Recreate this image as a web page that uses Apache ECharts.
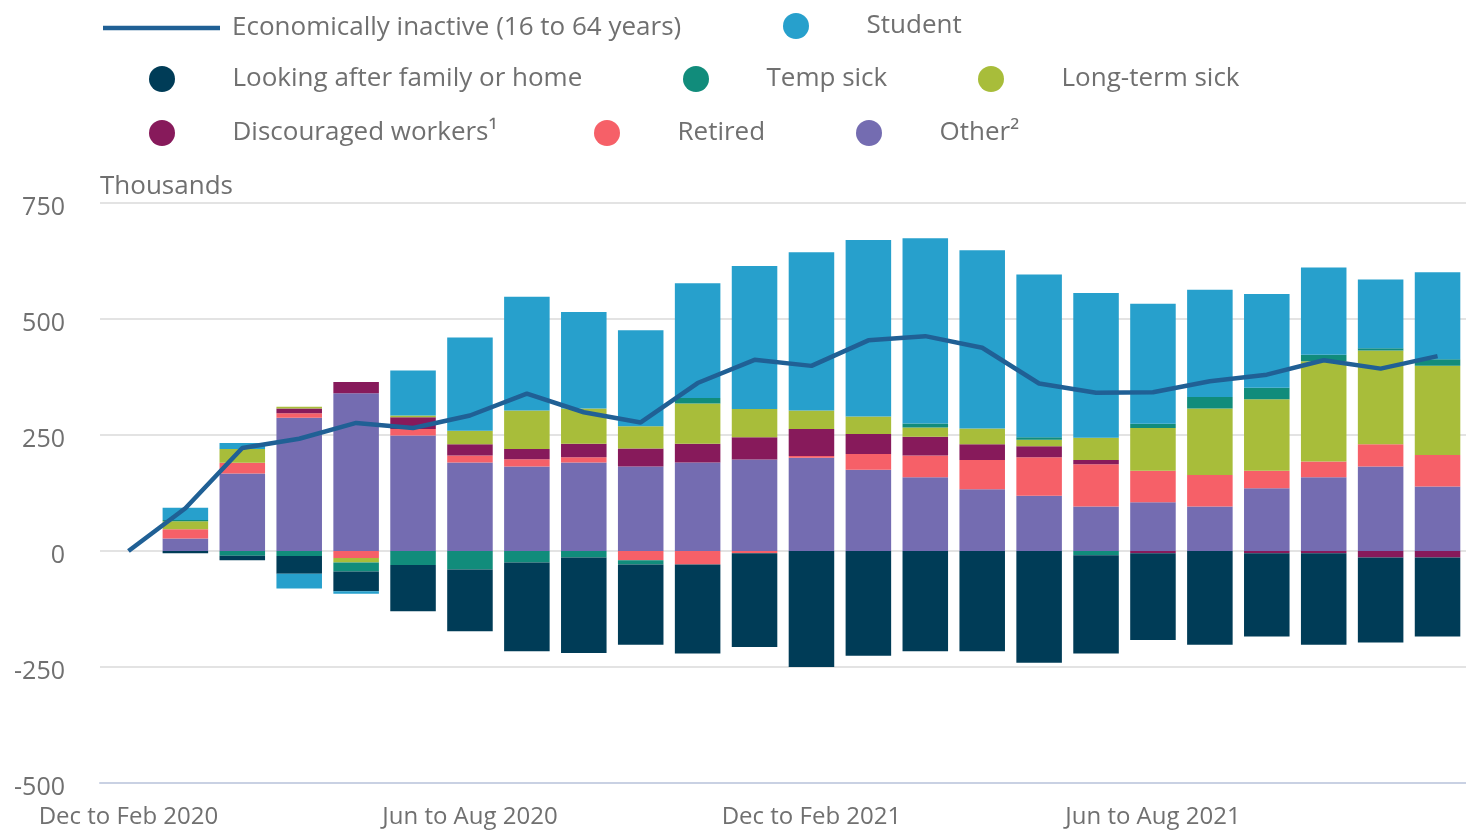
<!DOCTYPE html>
<html>
<head>
<meta charset="utf-8">
<script src="https://cdn.jsdelivr.net/npm/echarts@6/dist/echarts.min.js"></script>
<style>
  html, body { margin: 0; padding: 0; background: #fff; }
  #chart { width: 1466px; height: 832px; }
</style>
</head>
<body>
<div id="chart"></div>
<script>
// rolling three-month periods
const categories = [
  "Dec to Feb 2020", "Jan to Mar 2020", "Feb to Apr 2020", "Mar to May 2020",
  "Apr to Jun 2020", "May to Jul 2020", "Jun to Aug 2020", "Jul to Sep 2020",
  "Aug to Oct 2020", "Sep to Nov 2020", "Oct to Dec 2020", "Nov to Jan 2021",
  "Dec to Feb 2021", "Jan to Mar 2021", "Feb to Apr 2021", "Mar to May 2021",
  "Apr to Jun 2021", "May to Jul 2021", "Jun to Aug 2021", "Jul to Sep 2021",
  "Aug to Oct 2021", "Sep to Nov 2021", "Oct to Dec 2021", "Nov to Jan 2022"
];

// change since Dec to Feb 2020, thousands
const other       = [0, 27, 167, 287, 340, 249, 191, 182, 191, 182, 191, 197, 201, 175, 159, 133, 119, 96, 105, 96, 135, 159, 182, 139];
const retired     = [0, 20, 23, 10, -15, 14, 15, 16, 11, -20, -29, -5, 4, 34, 47, 63, 83, 91, 68, 68, 38, 34, 48, 68];
const discouraged = [0, 0, 0, 10, 24, 25, 24, 22, 29, 39, 40, 48, 58, 43, 40, 34, 24, 9, -5, 0, -5, -5, -14, -14];
const longTermSick = [0, 17, 30, 4, -10, 4, 29, 83, 76, 48, 87, 61, 40, 38, 20, 34, 14, 48, 92, 143, 154, 216, 202, 192];
const tempSick    = [0, 3, -10, -11, -19, -30, -40, -25, -14, -9, 12, 0, 0, 0, 9, 0, 5, -9, 9, 25, 25, 14, 5, 14];
const lookingAfter = [0, -5, -10, -38, -43, -100, -133, -191, -206, -173, -192, -202, -250, -226, -216, -216, -241, -212, -187, -202, -179, -197, -183, -170];
const student     = [0, 26, 13, -32, -5, 97, 201, 245, 208, 207, 247, 308, 341, 380, 399, 384, 351, 312, 259, 231, 202, 188, 148, 188];
const inactive    = [0, 92, 222, 242, 276, 265, 292, 339, 299, 277, 362, 412, 399, 454, 463, 438, 361, 341, 342, 366, 380, 411, 393, 420];

const yTicks = { min: -500, max: 750, step: 250 };

const FONT = "'Open Sans', sans-serif";
const textGrey = "#707070";

const chart = echarts.init(document.getElementById("chart"));

// one bar series per reason; order sets the stacking above and below zero
const barSeries = [
  { name: "Other²", data: other, color: "#746cb1" },
  { name: "Retired", data: retired, color: "#f66068" },
  { name: "Discouraged workers¹", data: discouraged, color: "#871a5b" },
  { name: "Long-term sick", data: longTermSick, color: "#a8bd3a" },
  { name: "Temp sick", data: tempSick, color: "#118c7b" },
  { name: "Looking after family or home", data: lookingAfter, color: "#003c57" },
  { name: "Student", data: student, color: "#27a0cc" },
].map((s) => ({
  name: s.name,
  type: "bar",
  stack: "reasons",
  barWidth: "80%",
  itemStyle: { color: s.color },
  emphasis: { disabled: true },
  data: s.data.map((v) => (v === 0 ? null : v)),
}));

// legend laid out item by item, like the original
const legendItem = (name, left, top, icon) => ({
  data: [name],
  left: left,
  top: top,
  icon: icon,
  itemWidth: 117,
  itemHeight: 26,
  selectedMode: false,
  textStyle: {
    fontFamily: FONT,
    fontSize: 26,
    color: textGrey,
    padding: [0, 0, 0, 7],
  },
});

const lineIcon = "path://M0,0 L117,0 L117,4.5 L0,4.5 Z";

const option = {
  animation: false,
  textStyle: { fontFamily: FONT },
  legend: [
    legendItem("Economically inactive (16 to 64 years)", 98, 10, lineIcon),
    legendItem("Student", 778, 8, "circle"),
    legendItem("Looking after family or home", 144, 61, "circle"),
    legendItem("Temp sick", 678, 61, "circle"),
    legendItem("Long-term sick", 973, 61, "circle"),
    legendItem("Discouraged workers¹", 144, 115, "circle"),
    legendItem("Retired", 589, 115, "circle"),
    legendItem("Other²", 851, 115, "circle"),
  ],
  grid: {
    left: 100,
    top: 203,
    width: 1373,
    height: 580,
  },
  xAxis: {
    type: "category",
    data: categories,
    boundaryGap: true,
    axisLine: { onZero: false, lineStyle: { color: "#c9d1e3", width: 2 } },
    axisTick: {
      alignWithLabel: true,
      interval: 5,
      length: 20,
      lineStyle: { color: "#c9d1e3", width: 1.5 },
    },
    axisLabel: {
      interval: 5,
      fontFamily: FONT,
      fontSize: 24,
      color: textGrey,
      margin: 22,
    },
  },
  yAxis: {
    type: "value",
    min: yTicks.min,
    max: yTicks.max,
    interval: yTicks.step,
    name: "Thousands",
    nameLocation: "end",
    nameGap: 16,
    nameTextStyle: {
      align: "left",
      verticalAlign: "middle",
      fontFamily: FONT,
      fontSize: 26,
      color: textGrey,
    },
    axisLine: { show: false },
    axisTick: { show: false },
    axisLabel: {
      margin: 35,
      formatter: "{v|{value}}",
      rich: {
        v: {
          fontFamily: FONT,
          fontSize: 25,
          color: textGrey,
          padding: [9, 0, 0, 0],
        },
      },
    },
    splitLine: { lineStyle: { color: "#e3e3e3", width: 2 } },
  },
  series: [
    ...barSeries,
    {
      name: "Economically inactive (16 to 64 years)",
      type: "line",
      data: inactive,
      symbol: "none",
      z: 5,
      color: "#206095",
      lineStyle: { color: "#206095", width: 4.5 },
      emphasis: { disabled: true },
    },
  ],
};

chart.setOption(option);
</script>
</body>
</html>
